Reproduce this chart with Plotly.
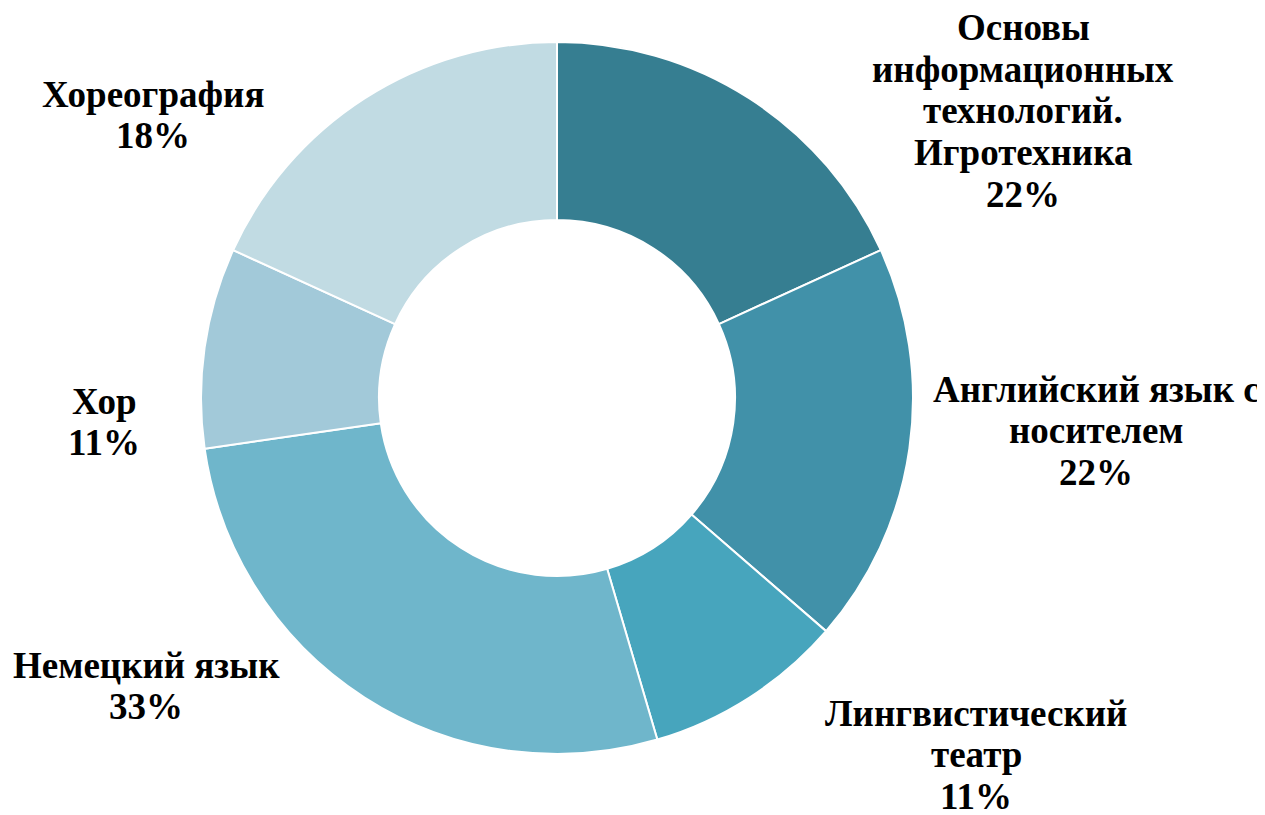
import plotly.graph_objects as go

categories = [
    "Основы\nинформационных\nтехнологий.\nИгротехника",
    "Английский язык с\nносителем",
    "Лингвистический\nтеатр",
    "Немецкий язык",
    "Хор",
    "Хореография",
]
values = [2, 2, 1, 3, 1, 2]
pct_labels = ["22%", "22%", "11%", "33%", "11%", "18%"]
colors = ["#367E91", "#4191A9", "#47A5BD", "#6FB6CB", "#A2C9D9", "#C1DBE3"]

# layout: label block x-centre and first-line y (pixels, page coords)
label_pos = [(1023, 29), (1096, 390), (976, 714), (146, 666), (104, 402), (153, 95)]
LINE_H = 41.5
PAGE_OFF = 8  # default body margin of the html page
FONT_SIZE = 37

W, H = 1265, 815
cx, cy, r = 557 - PAGE_OFF, 398 - PAGE_OFF, 356

fig = go.Figure(go.Pie(
    labels=[c.replace("\n", " ") for c in categories],
    values=values,
    hole=0.5,
    sort=False,
    direction="clockwise",
    rotation=0,
    marker=dict(colors=colors, line=dict(color="white", width=2)),
    textinfo="none",
    hoverinfo="label+value",
    domain=dict(x=[(cx - r) / W, (cx + r) / W], y=[(H - cy - r) / H, (H - cy + r) / H]),
))

for cat, pct, (px, py) in zip(categories, pct_labels, label_pos):
    lines = cat.split("\n") + [pct]
    for i, ln in enumerate(lines):
        ypix = py + i * LINE_H - PAGE_OFF - 1
        fig.add_annotation(
            x=(px - PAGE_OFF) / W, y=1 - ypix / H, xref="paper", yref="paper",
            text=f"<b>{ln}</b>", showarrow=False,
            xanchor="center", yanchor="middle", align="center",
            font=dict(family="Liberation Serif, Times New Roman, serif", size=FONT_SIZE, color="black"),
        )

fig.update_layout(
    width=W, height=H,
    margin=dict(l=0, r=0, t=0, b=0),
    showlegend=False,
    paper_bgcolor="white",
    plot_bgcolor="white",
)

fig.write_html("out.html")
